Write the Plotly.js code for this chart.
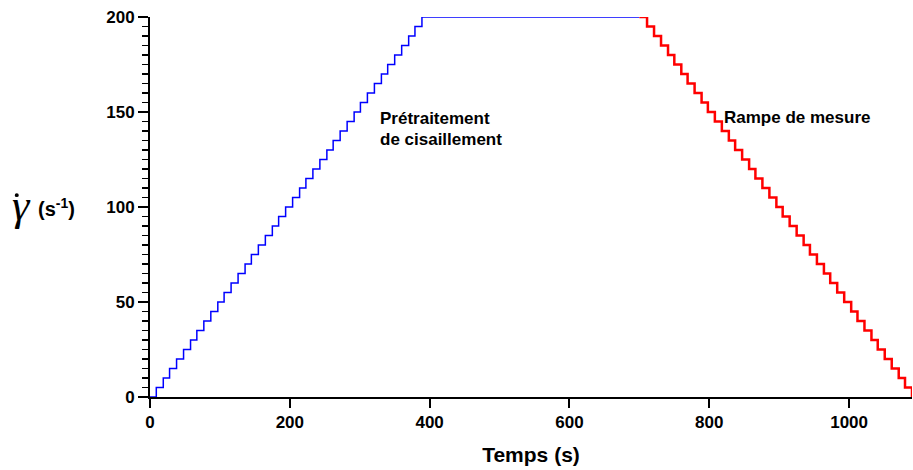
<!DOCTYPE html>
<html>
<head>
<meta charset="utf-8">
<script src="https://cdn.plot.ly/plotly-3.0.1.min.js"></script>
<style>html,body{margin:0;padding:0;background:#fff;}#chart{width:913px;height:470px;}</style>
</head>
<body>
<div id="chart"></div>
<script>
// Pre-shear ramp (blue): step times (s) and shear-rate levels (1/s)
const pretreatTime = [0, 9, 19, 28, 38, 48, 58, 67, 77, 87, 97, 106, 116, 126, 136, 145, 155, 165, 175, 184, 194,
  204, 214, 223, 233, 243, 253, 262, 272, 282, 292, 301, 311, 321, 331, 340, 350, 360, 370, 379, 389, 700];
const pretreatRate = [0, 5, 10, 15, 20, 25, 30, 35, 40, 45, 50, 55, 60, 65, 70, 75, 80, 85, 90, 95, 100,
  105, 110, 115, 120, 125, 130, 135, 140, 145, 150, 155, 160, 165, 170, 175, 180, 185, 190, 195, 200, 200];
// Measurement ramp (red)
const measureTime = [700, 711, 721, 731, 741, 750, 760, 769, 779, 789, 798, 808, 818, 828, 837, 847, 857, 866, 876, 886, 896,
  905, 915, 925, 935, 944, 954, 964, 973, 983, 993, 1003, 1012, 1022, 1032, 1041, 1051, 1061, 1071, 1080, 1090];
const measureRate = [200, 195, 190, 185, 180, 175, 170, 165, 160, 155, 150, 145, 140, 135, 130, 125, 120, 115, 110, 105, 100,
  95, 90, 85, 80, 75, 70, 65, 60, 55, 50, 45, 40, 35, 30, 25, 20, 15, 10, 5, 0];
const xTicks = [0, 200, 400, 600, 800, 1000];
const yTicks = [0, 50, 100, 150, 200];

const font = 'Liberation Sans, Arial, sans-serif';
const bold = (size) => ({family: font, size: size, color: '#000', weight: 'bold'});

const traces = [
  {x: pretreatTime, y: pretreatRate, type: 'scatter', mode: 'lines', line: {shape: 'hv', color: '#0000ff', width: 1.5}, cliponaxis: false, hoverinfo: 'none'},
  {x: measureTime, y: measureRate, type: 'scatter', mode: 'lines', line: {shape: 'hv', color: '#ff0000', width: 2.5}, cliponaxis: false, hoverinfo: 'none'}
];

const layout = {
  width: 913, height: 470,
  margin: {l: 150, r: 1, t: 17, b: 73},
  paper_bgcolor: '#fff', plot_bgcolor: '#fff',
  showlegend: false,
  xaxis: {
    range: [0, 1090], tickvals: xTicks, ticktext: xTicks.map(String),
    showgrid: false, zeroline: false, showline: true, linecolor: '#000', linewidth: 2,
    ticks: 'outside', ticklen: 9, tickwidth: 2, tickcolor: '#000',
    tickfont: bold(17),
    title: {text: 'Temps (s)', font: bold(21), standoff: 16}
  },
  yaxis: {
    range: [0, 200], tickvals: yTicks, ticktext: yTicks.map(String),
    showgrid: false, zeroline: false, showline: true, linecolor: '#000', linewidth: 2,
    ticks: 'outside', ticklen: 10, tickwidth: 2, tickcolor: '#000',
    minor: {dtick: 5, ticks: 'outside', ticklen: 6, tickwidth: 1.5, tickcolor: '#000'},
    tickfont: bold(17)
  },
  shapes: [
    {type: 'circle', xref: 'paper', yref: 'paper', x0: -0.1775, x1: -0.1722, y0: 0.526, y1: 0.5365,
     fillcolor: '#000', line: {width: 0}}
  ],
  annotations: [
    {xref: 'x', yref: 'y', x: 326, y: 146.8, xanchor: 'left', yanchor: 'middle', align: 'left', showarrow: false,
     text: 'Prétraitement', font: bold(17)},
    {xref: 'x', yref: 'y', x: 326, y: 135.3, xanchor: 'left', yanchor: 'middle', align: 'left', showarrow: false,
     text: 'de cisaillement', font: bold(17)},
    {xref: 'x', yref: 'y', x: 818, y: 147.1, xanchor: 'left', yanchor: 'middle', align: 'left', showarrow: false,
     text: 'Rampe de mesure', font: bold(17)},
    {xref: 'paper', yref: 'paper', x: -0.168, y: 0.505, xanchor: 'center', yanchor: 'middle', showarrow: false,
     text: 'γ', font: {family: 'Liberation Serif, serif', size: 44, color: '#000', style: 'italic'}},
    {xref: 'paper', yref: 'paper', x: -0.123, y: 0.5, xanchor: 'center', yanchor: 'middle', showarrow: false,
     text: '(s<sup>-1</sup>)', font: bold(20)}
  ]
};

Plotly.newPlot('chart', traces, layout, {staticPlot: true, displayModeBar: false});
</script>
</body>
</html>
